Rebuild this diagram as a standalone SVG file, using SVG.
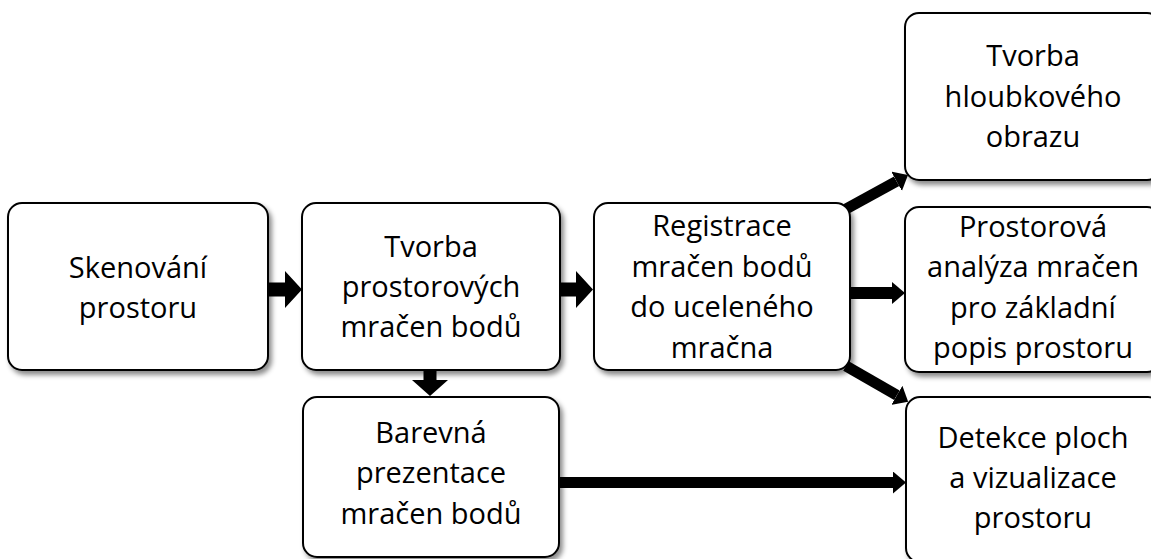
<svg xmlns="http://www.w3.org/2000/svg" width="1151" height="559" viewBox="0 0 1151 559">
  <style>
    .box { fill: #ffffff; stroke: #000000; stroke-width: 2; filter: url(#shadow); }
    .label { font-family: "Open Sans", "Liberation Sans", sans-serif; font-size: 29px; fill: #000000; text-anchor: middle; }
    .block { fill: #000000; }
    .line { stroke: #000000; stroke-width: 11; fill: none; marker-end: url(#head); }
  </style>
  <defs>
    <filter id="shadow" x="-10%" y="-10%" width="130%" height="130%">
      <feDropShadow dx="3" dy="4" stdDeviation="2.5" flood-color="#000000" flood-opacity="0.45"/>
    </filter>
    <marker id="head" markerUnits="userSpaceOnUse" markerWidth="14" markerHeight="22" viewBox="0 0 14 22" refX="0" refY="11" orient="auto">
      <path d="M0,0 L13,11 L0,22 Z" fill="#000000"/>
    </marker>
  </defs>

  <!-- connectors -->
  <g id="connectors">
    <polygon class="block" points="268,282.5 285,282.5 285,271 302,289.5 285,308 285,296.5 268,296.5"/>
    <polygon class="block" points="560,282.5 576,282.5 576,271 593,289.5 576,308 576,296.5 560,296.5"/>
    <polygon class="block" points="423.5,370 436.5,370 436.5,380 448,380 430,396 412,380 423.5,380"/>
    <line class="line" x1="846" y1="209" x2="896.6" y2="181.3"/>
    <line class="line" x1="850" y1="293" x2="892" y2="293" style="stroke-width:12"/>
    <line class="line" x1="846" y1="366" x2="896.9" y2="395.3"/>
    <line class="line" x1="559" y1="482.5" x2="893" y2="482.5"/>
  </g>

  <g id="skenovani">
    <rect class="box" x="8" y="203" width="260" height="167" rx="14"/>
    <text class="label"><tspan x="138" y="278">Skenování</tspan><tspan x="138" y="318">prostoru</tspan></text>
  </g>

  <g id="tvorba-mracen">
    <rect class="box" x="302" y="203" width="258" height="167" rx="14"/>
    <text class="label"><tspan x="431" y="257">Tvorba</tspan><tspan x="431" y="297">prostorových</tspan><tspan x="431" y="337">mračen bodů</tspan></text>
  </g>

  <g id="registrace">
    <rect class="box" x="594" y="203" width="256" height="167" rx="14"/>
    <text class="label"><tspan x="722" y="236">Registrace</tspan><tspan x="722" y="276.5">mračen bodů</tspan><tspan x="722" y="317">do uceleného</tspan><tspan x="722" y="357.5">mračna</tspan></text>
  </g>

  <g id="hloubkovy-obraz">
    <rect class="box" x="905" y="13" width="256" height="167" rx="14"/>
    <text class="label"><tspan x="1033" y="66">Tvorba</tspan><tspan x="1033" y="106.5">hloubkového</tspan><tspan x="1033" y="147">obrazu</tspan></text>
  </g>

  <g id="prostorova-analyza">
    <rect class="box" x="905" y="207" width="256" height="165" rx="14"/>
    <text class="label"><tspan x="1033" y="237">Prostorová</tspan><tspan x="1033" y="277">analýza mračen</tspan><tspan x="1033" y="317.5">pro základní</tspan><tspan x="1033" y="358">popis prostoru</tspan></text>
  </g>

  <g id="barevna-prezentace">
    <rect class="box" x="303" y="397" width="256" height="160" rx="14"/>
    <text class="label"><tspan x="431" y="443">Barevná</tspan><tspan x="431" y="483">prezentace</tspan><tspan x="431" y="524">mračen bodů</tspan></text>
  </g>

  <g id="detekce-ploch">
    <rect class="box" x="906" y="397" width="256" height="165" rx="14"/>
    <text class="label"><tspan x="1033" y="448">Detekce ploch</tspan><tspan x="1033" y="488">a vizualizace</tspan><tspan x="1033" y="528">prostoru</tspan></text>
  </g>
</svg>
